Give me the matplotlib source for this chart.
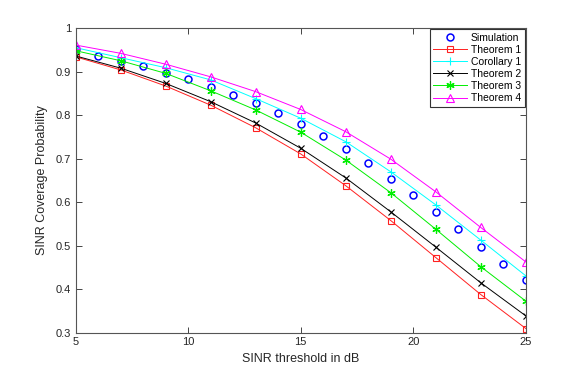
import matplotlib
matplotlib.use("Agg")
import matplotlib.pyplot as plt

plt.rcParams['font.family'] = ['Liberation Sans', 'DejaVu Sans']

# SINR threshold (dB)
x_sim = list(range(5, 26))
x_th = list(range(5, 26, 2))

simulation = [0.951, 0.936, 0.924, 0.912, 0.896, 0.882, 0.865, 0.846, 0.827, 0.804,
              0.780, 0.753, 0.722, 0.689, 0.654, 0.617, 0.578, 0.539, 0.497, 0.459, 0.421]
theorem1 = [0.934, 0.904, 0.867, 0.823, 0.771, 0.711, 0.638, 0.558, 0.473, 0.388, 0.310]
corollary1 = [0.955, 0.932, 0.909, 0.881, 0.838, 0.793, 0.739, 0.670, 0.594, 0.513, 0.431]
theorem2 = [0.936, 0.908, 0.873, 0.831, 0.782, 0.724, 0.656, 0.578, 0.497, 0.415, 0.339]
theorem3 = [0.948, 0.925, 0.896, 0.856, 0.812, 0.761, 0.697, 0.622, 0.538, 0.452, 0.373]
theorem4 = [0.961, 0.942, 0.917, 0.888, 0.854, 0.813, 0.762, 0.699, 0.624, 0.542, 0.463]

fig = plt.figure(figsize=(5.81, 3.74), dpi=100)
ax = fig.add_axes([0.13, 0.11, 0.775, 0.815])

lw = 0.7
ms = 5
asterisk = (6, 2, 0)
ax.plot(x_sim, simulation, 'o', color='blue', mfc='none', ms=ms, mew=1.1, label='Simulation')
ax.plot(x_th, theorem1, '-s', color='#ff2020', mfc='none', ms=4.5, lw=lw, mew=0.8, label='Theorem 1')
ax.plot(x_th, corollary1, '-+', color='cyan', ms=6, lw=lw, mew=0.8, label='Corollary 1')
ax.plot(x_th, theorem2, '-x', color='black', ms=ms, lw=lw, mew=0.8, label='Theorem 2')
ax.plot(x_th, theorem3, '-', marker=asterisk, color='#00ee00', ms=6, lw=lw, mew=0.9, label='Theorem 3')
ax.plot(x_th, theorem4, '-^', color='magenta', mfc='none', ms=6, lw=lw, mew=0.8, label='Theorem 4')

ax.set_xlim(5, 25)
ax.set_ylim(0.3, 1.0)
ax.set_xticks([5, 10, 15, 20, 25])
yt = [0.3, 0.4, 0.5, 0.6, 0.7, 0.8, 0.9, 1.0]
ax.set_yticks(yt)
ax.set_yticklabels(['0.3', '0.4', '0.5', '0.6', '0.7', '0.8', '0.9', '1'])

gray = '#262626'
ax.tick_params(direction='in', length=4, width=0.6, top=True, right=True,
               labelsize=8, colors=gray, pad=3)
for s in ax.spines.values():
    s.set_color('#555555')
    s.set_linewidth(0.8)

ax.set_xlabel('SINR threshold in dB', fontsize=9, color=gray, labelpad=4)
ax.set_ylabel('SINR Coverage Probability', fontsize=9, color=gray, labelpad=6)

leg = ax.legend(loc='upper right', fontsize=7.5, handlelength=3.2, borderaxespad=0.1,
                fancybox=False, framealpha=1, edgecolor='#333333', borderpad=0.35,
                labelspacing=0.2, handletextpad=0.4)
leg.get_frame().set_linewidth(0.8)

fig.savefig('out.png', dpi=100)
